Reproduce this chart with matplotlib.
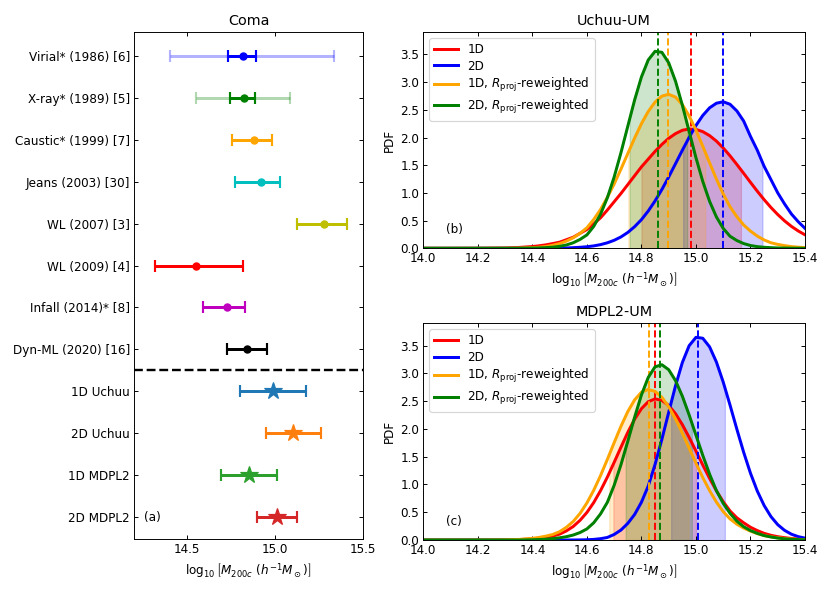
import numpy as np
import matplotlib.pyplot as plt

# ---------------- panel (a): Coma mass estimates ----------------
lit_names = ['Virial* (1986) [6]', 'X-ray* (1989) [5]', 'Caustic* (1999) [7]',
             'Jeans (2003) [30]', 'WL (2007) [3]', 'WL (2009) [4]',
             'Infall (2014)* [8]', 'Dyn-ML (2020) [16]']
lit_mass = [14.82, 14.824, 14.882, 14.924, 15.278, 14.552, 14.726, 14.841]
lit_lo = [14.734, 14.747, 14.757, 14.774, 15.123, 14.318, 14.594, 14.73]
lit_hi = [14.893, 14.887, 14.985, 15.031, 15.412, 14.82, 14.832, 14.954]
lit_colors = ['b', 'g', 'orange', 'c', 'y', 'r', 'm', 'k']

# wider (faint) ranges for the first two estimates
outer_idx = [0, 1]
outer_lo = [14.406, 14.552]
outer_hi = [15.336, 15.084]

model_names = ['1D Uchuu', '2D Uchuu', '1D MDPL2', '2D MDPL2']
model_mass = [14.991, 15.102, 14.851, 15.011]
model_lo = [14.801, 14.948, 14.694, 14.901]
model_hi = [15.178, 15.259, 15.011, 15.125]
model_colors = ['tab:blue', 'tab:orange', 'tab:green', 'tab:red']

# ---------------- panels (b), (c): PDFs ----------------
x_pdf = np.array([14.0, 14.1, 14.2, 14.3, 14.35,
                  14.4, 14.425, 14.45, 14.475, 14.5, 14.525, 14.55, 14.575,
                  14.6, 14.625, 14.65, 14.675, 14.7, 14.725, 14.75, 14.775,
                  14.8, 14.825, 14.85, 14.875, 14.9, 14.925, 14.95, 14.975,
                  15.0, 15.025, 15.05, 15.075, 15.1, 15.125, 15.15, 15.175,
                  15.2, 15.225, 15.25, 15.275, 15.3, 15.325, 15.35, 15.375,
                  15.4])

uchuu_1d = [0.0, 0.0, 0.001, 0.006, 0.015,
            0.031, 0.045, 0.062, 0.085, 0.11, 0.155, 0.20, 0.27,
            0.34, 0.44, 0.55, 0.69, 0.84, 0.99, 1.15, 1.31,
            1.47, 1.61, 1.75, 1.875, 1.985, 2.07, 2.13, 2.155,
            2.146, 2.106, 2.034, 1.935, 1.811, 1.669, 1.514, 1.353,
            1.19, 1.03, 0.878, 0.737, 0.609, 0.495, 0.396, 0.313,
            0.243]
uchuu_2d = [0.0, 0.0, 0.0, 0.0, 0.0,
            0.0, 0.0, 0.001, 0.002, 0.004, 0.006, 0.011, 0.018,
            0.028, 0.043, 0.066, 0.099, 0.144, 0.205, 0.286, 0.39,
            0.517, 0.673, 0.855, 1.061, 1.287, 1.527, 1.769, 2.003,
            2.217, 2.398, 2.536, 2.619, 2.645, 2.60, 2.48, 2.297,
            2.02, 1.77, 1.48, 1.24, 1.0, 0.80, 0.62, 0.48,
            0.36]
uchuu_1d_rw = [0.0, 0.0, 0.0, 0.001, 0.004,
               0.011, 0.019, 0.032, 0.055, 0.085, 0.13, 0.19, 0.27,
               0.37, 0.52, 0.70, 0.92, 1.16, 1.43, 1.71, 1.99,
               2.25, 2.47, 2.64, 2.747, 2.78, 2.729, 2.595, 2.39,
               2.132, 1.843, 1.542, 1.25, 0.981, 0.75, 0.57, 0.42,
               0.31, 0.22, 0.15, 0.10, 0.07, 0.048, 0.03, 0.02,
               0.012]
uchuu_2d_rw = [0.0, 0.0, 0.0, 0.0, 0.0,
               0.004, 0.007, 0.012, 0.02, 0.035, 0.06, 0.10, 0.16,
               0.241, 0.395, 0.615, 0.912, 1.287, 1.727, 2.204, 2.677,
               3.093, 3.40, 3.556, 3.538, 3.349, 3.017, 2.585, 2.108,
               1.635, 1.207, 0.847, 0.566, 0.359, 0.217, 0.14, 0.085,
               0.05, 0.03, 0.018, 0.011, 0.006, 0.004, 0.002, 0.001,
               0.0]

mdpl_1d = [0.0, 0.0, 0.0, 0.003, 0.008,
           0.02, 0.032, 0.05, 0.072, 0.106, 0.165, 0.244, 0.355,
           0.496, 0.674, 0.888, 1.132, 1.398, 1.672, 1.938, 2.175,
           2.364, 2.49, 2.54, 2.514, 2.423, 2.274, 2.078, 1.848,
           1.601, 1.35, 1.109, 0.886, 0.69, 0.523, 0.40, 0.31,
           0.23, 0.17, 0.12, 0.085, 0.06, 0.042, 0.028, 0.019,
           0.012]
mdpl_2d = [0.0, 0.0, 0.0, 0.0, 0.0,
           0.0, 0.0, 0.0, 0.0, 0.0, 0.0, 0.001, 0.002,
           0.005, 0.011, 0.024, 0.046, 0.10, 0.18, 0.30, 0.46,
           0.68, 0.972, 1.36, 1.812, 2.298, 2.776, 3.194, 3.498,
           3.648, 3.632, 3.477, 3.204, 2.843, 2.428, 1.995, 1.579,
           1.202, 0.881, 0.622, 0.422, 0.276, 0.174, 0.105, 0.061,
           0.034]
mdpl_1d_rw = [0.0, 0.0, 0.0, 0.004, 0.01,
              0.03, 0.047, 0.07, 0.10, 0.15, 0.23, 0.335, 0.48,
              0.667, 0.895, 1.159, 1.45, 1.753, 2.048, 2.312, 2.523,
              2.661, 2.71, 2.675, 2.569, 2.399, 2.18, 1.926, 1.654,
              1.383, 1.124, 0.889, 0.683, 0.511, 0.38, 0.285, 0.215,
              0.16, 0.115, 0.08, 0.058, 0.04, 0.028, 0.018, 0.012,
              0.007]
mdpl_2d_rw = [0.0, 0.0, 0.0, 0.0, 0.0,
              0.005, 0.009, 0.015, 0.025, 0.04, 0.06, 0.09, 0.135,
              0.20, 0.31, 0.47, 0.678, 0.985, 1.357, 1.778, 2.21,
              2.611, 2.927, 3.118, 3.155, 3.066, 2.87, 2.59, 2.252,
              1.887, 1.524, 1.186, 0.889, 0.66, 0.48, 0.34, 0.24,
              0.17, 0.12, 0.08, 0.055, 0.035, 0.022, 0.013, 0.008,
              0.004]

pdf_labels = ['1D', '2D', r'1D, $R_{\rm proj}$-reweighted', r'2D, $R_{\rm proj}$-reweighted']
pdf_colors = ['r', 'b', 'orange', 'g']

# peak (dashed line) and 16-84% shaded range for each curve
uchuu_peak = [14.982, 15.098, 14.897, 14.86]
uchuu_lo = [14.80, 14.953, 14.752, 14.757]
uchuu_hi = [15.165, 15.244, 15.034, 14.968]
mdpl_peak = [14.85, 15.008, 14.826, 14.868]
mdpl_lo = [14.697, 14.909, 14.682, 14.742]
mdpl_hi = [15.0, 15.106, 14.973, 14.985]

xlabel = r'$\log_{10}\left[M_{200c}\ (h^{-1}M_\odot)\right]$'

fig = plt.figure(figsize=(830 / 86, 592 / 86), dpi=86)
ax_a = fig.add_axes([0.1614, 0.0895, 0.2759, 0.8559])
ax_b = fig.add_axes([0.51, 0.5806, 0.4599, 0.3649])
ax_c = fig.add_axes([0.51, 0.0878, 0.4599, 0.3660])

# ---- (a)
for i in range(len(lit_names)):
    m = lit_mass[i]
    ax_a.errorbar(m, i, xerr=[[m - lit_lo[i]], [lit_hi[i] - m]], fmt='o',
                  color=lit_colors[i], ms=6, elinewidth=2.5, capsize=5, capthick=1.8)
for k, i in enumerate(outer_idx):
    m = lit_mass[i]
    ax_a.errorbar(m, i, xerr=[[m - outer_lo[k]], [outer_hi[k] - m]], fmt='none',
                  color=lit_colors[i], alpha=0.3, elinewidth=2.5, capsize=5, capthick=1.8)

n_lit = len(lit_names)
for j in range(len(model_names)):
    m = model_mass[j]
    ax_a.errorbar(m, n_lit + j, xerr=[[m - model_lo[j]], [model_hi[j] - m]], fmt='*',
                  color=model_colors[j], ms=15, elinewidth=2.5, capsize=5, capthick=1.8)

ax_a.axhline(n_lit - 0.5, color='k', ls='--', lw=2)
ax_a.set_yticks(range(n_lit + len(model_names)))
ax_a.set_yticklabels(lit_names + model_names)
ax_a.set_ylim(11.52, -0.56)
ax_a.set_xlim(14.2, 15.5)
ax_a.set_xticks([14.5, 15.0, 15.5])
ax_a.tick_params(direction='in', top=True, right=True)
ax_a.set_xlabel(xlabel)
ax_a.set_title('Coma')
ax_a.text(0.045, 0.035, '(a)', transform=ax_a.transAxes)

# ---- (b), (c)
panels = [
    (ax_b, [uchuu_1d, uchuu_2d, uchuu_1d_rw, uchuu_2d_rw], uchuu_peak, uchuu_lo, uchuu_hi, 'Uchuu-UM', '(b)'),
    (ax_c, [mdpl_1d, mdpl_2d, mdpl_1d_rw, mdpl_2d_rw], mdpl_peak, mdpl_lo, mdpl_hi, 'MDPL2-UM', '(c)'),
]
for ax, curves, peaks, los, his, title, tag in panels:
    for y, lab, c, pk, lo, hi in zip(curves, pdf_labels, pdf_colors, peaks, los, his):
        y = np.array(y)
        ax.plot(x_pdf, y, color=c, lw=2.5, label=lab)
        inside = (x_pdf > lo) & (x_pdf < hi)
        xf = np.concatenate([[lo], x_pdf[inside], [hi]])
        ax.fill_between(xf, 0, np.interp(xf, x_pdf, y), color=c, alpha=0.2)
        ax.axvline(pk, color=c, ls='--', lw=1.6)
    ax.set_xlim(14.0, 15.4)
    ax.set_ylim(0, 3.9)
    ax.set_xticks([14.0, 14.2, 14.4, 14.6, 14.8, 15.0, 15.2, 15.4])
    ax.set_yticks([0.0, 0.5, 1.0, 1.5, 2.0, 2.5, 3.0, 3.5])
    ax.tick_params(direction='in', top=True, right=True)
    ax.set_xlabel(xlabel)
    ax.set_ylabel('PDF')
    ax.set_title(title)
    ax.legend(loc='upper left', labelspacing=0.3)
    ax.text(0.06, 0.07, tag, transform=ax.transAxes)

fig.savefig('out.png', dpi=86)
